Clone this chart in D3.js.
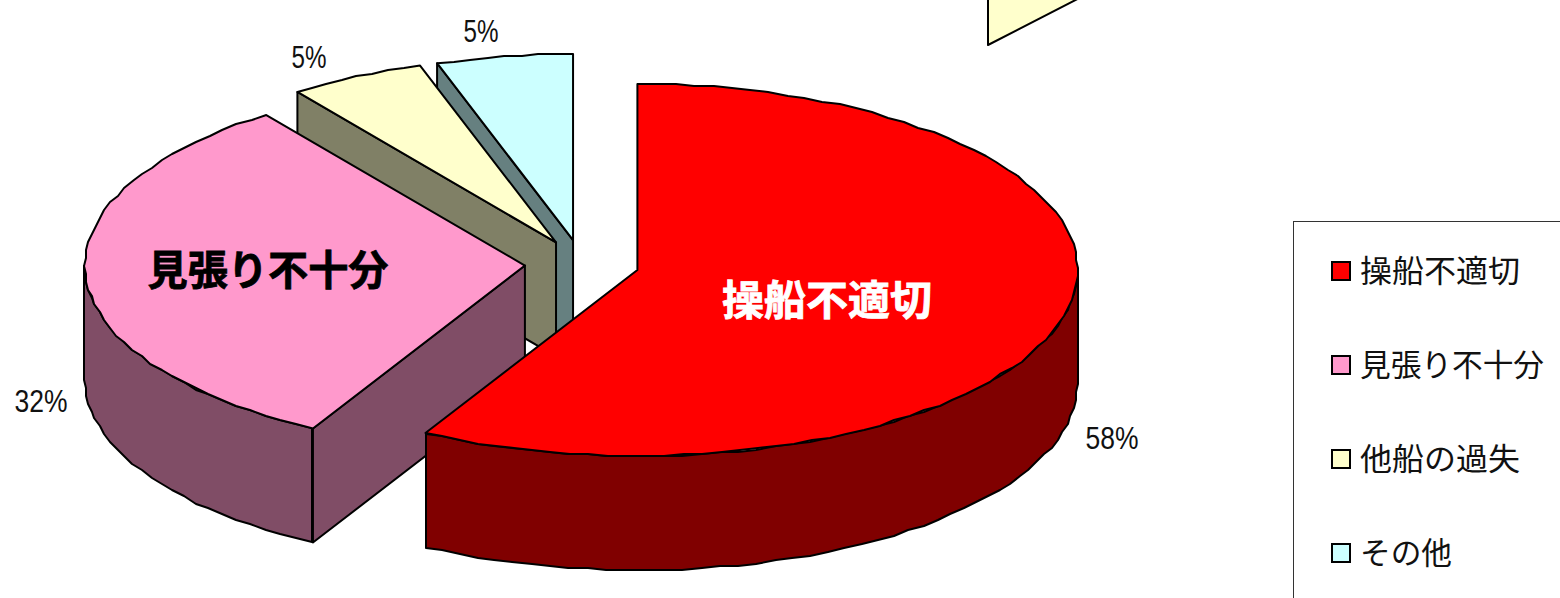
<!DOCTYPE html>
<html lang="ja">
<head>
<meta charset="utf-8">
<title>海難原因の内訳</title>
<script src="https://cdn.jsdelivr.net/npm/d3@7/dist/d3.min.js"></script>
<style>
  html, body { margin: 0; padding: 0; background: #fff; }
  svg { display: block; }
  .jp { font-family: "Noto Sans CJK JP", sans-serif; }
  .pct { font-family: "Liberation Sans", Arial, sans-serif; font-size: 32px; fill: #111; }
</style>
</head>
<body>
<svg id="chart" width="1560" height="598"></svg>
<script>
// Causes and their shares, clockwise from twelve o'clock
const causes = ["操船不適切", "見張り不十分", "他船の過失", "その他"];
const shares = [58, 32, 5, 5];
const fills = ["#ff0000", "#ff99cc", "#ffffcc", "#ccffff"];

// Percentage label anchors, one per cause
const pctX = [1112, 41, 309, 481];
const pctY = [449, 412, 68, 42];

// Set widths of the legend entries
const legendWidths = [160, 184, 160, 92];

// Cause names printed on the two large slices
const innerLabels = [
  { i: 0, x: 827, y: 315, width: 210, fill: "#fff" },
  { i: 1, x: 268, y: 285, width: 241, fill: "#000" }
];

// Disc projection
const cx = 582, cy = 264, rx = 440, ry = 186, depth = 114, explode = 0.13;
const toRad = Math.PI / 180;

const svg = d3.select("#chart");
const pieLayout = d3.pie().sort(null).value(d => d)(shares);
const sideColor = c => { const k = d3.rgb(c); return d3.rgb(k.r / 2, k.g * 0.5, k.b * 0.5).formatHex(); };

// The rim of the disc is plotted on a coarse grid, which gives its outline a slightly stepped look
const snap = v => Math.round(v / 2) * 2;
const rimPoint = (a, o, dz = 0, coarse = true) => {
  const x = o[0] + rx * Math.sin(a), y = o[1] - ry * Math.cos(a);
  return coarse ? [snap(x), snap(y) + dz] : [x, y + dz];
};
const arcAngles = (a0, a1) => {
  const n = Math.max(2, Math.ceil((a1 - a0) / (2.5 * toRad)));
  return d3.range(n + 1).map(k => a0 + (a1 - a0) * k / n);
};
const line = d3.line();

const slices = pieLayout.map((p, i) => {
  const mid = (p.startAngle + p.endAngle) / 2;
  const origin = [cx + explode * rx * Math.sin(mid), cy - explode * ry * Math.cos(mid)];
  return { p, i, origin, fill: fills[i], side: sideColor(fills[i]) };
});

const outline = { stroke: "#000", "stroke-width": 2, "stroke-linejoin": "round" };
const draw = (d, fill) => {
  const el = svg.append("path").attr("d", d).attr("fill", fill);
  Object.entries(outline).forEach(([k, v]) => el.attr(k, v));
  return el;
};

// Callout tail that runs off the top edge of the sheet
draw("M988,45 L988,-10 L1095,-10 Z", "#ffffcc");

// Back slices first so that the nearer ones overlap them
slices.slice().reverse().forEach(s => {
  const { p, origin } = s;
  const a0 = p.startAngle, a1 = p.endAngle;

  // Cut face along the start radius, when it turns toward the viewer
  if (a0 > Math.PI && a0 < 2 * Math.PI) {
    const c = rimPoint(a0, origin, 0, false);
    draw(line([origin, c, [c[0], c[1] + depth], [origin[0], origin[1] + depth]]) + "Z", s.side);
  }

  // Outer wall for the front half of the ellipse
  const f0 = Math.max(a0, Math.PI / 2), f1 = Math.min(a1, 3 * Math.PI / 2);
  if (f1 > f0) {
    const top = arcAngles(f0, f1).map(a => rimPoint(a, origin));
    const bottom = top.map(q => [q[0], q[1] + depth]).reverse();
    draw(line(top.concat(bottom)) + "Z", s.side);
  }

  // Top face
  const rim = arcAngles(a0, a1).map(a => rimPoint(a, origin));
  rim[0] = rimPoint(a0, origin, 0, false);
  rim[rim.length - 1] = rimPoint(a1, origin, 0, false);
  draw(line([origin].concat(rim)) + "Z", s.fill);
});

// Names on the slices
innerLabels.forEach(l => {
  svg.append("text").attr("class", "jp")
    .attr("x", l.x).attr("y", l.y)
    .attr("text-anchor", "middle")
    .attr("font-size", 41).attr("font-weight", 700)
    .attr("textLength", l.width).attr("lengthAdjust", "spacingAndGlyphs")
    .attr("fill", l.fill).attr("stroke", l.fill).attr("stroke-width", 0.8)
    .text(causes[l.i]);
});

// Percentages, set in a condensed width
shares.forEach((v, i) => {
  const label = v + "%";
  svg.append("text").attr("class", "pct")
    .attr("x", pctX[i]).attr("y", pctY[i])
    .attr("text-anchor", "middle")
    .attr("textLength", label.length === 2 ? 35 : 53)
    .attr("lengthAdjust", "spacingAndGlyphs")
    .text(label);
});

// Legend box, its right and bottom sides fall outside the sheet
svg.append("rect")
  .attr("x", 1293.5).attr("y", 221.5).attr("width", 400).attr("height", 500)
  .attr("fill", "#fff").attr("stroke", "#333").attr("stroke-width", 1);

const legendY = d3.scalePoint().domain(causes).range([271, 553]);
const legend = svg.selectAll("g.entry").data(causes).join("g")
  .attr("class", "entry")
  .attr("transform", d => `translate(0,${legendY(d)})`);
legend.append("rect")
  .attr("x", 1332).attr("y", -9).attr("width", 18).attr("height", 18)
  .attr("fill", (d, i) => fills[i]).attr("stroke", "#000").attr("stroke-width", 2);
legend.append("text").attr("class", "jp")
  .attr("x", 1360).attr("y", 11)
  .attr("font-size", 31).attr("fill", "#111")
  .attr("textLength", (d, i) => legendWidths[i]).attr("lengthAdjust", "spacingAndGlyphs")
  .text(d => d);
</script>
</body>
</html>
